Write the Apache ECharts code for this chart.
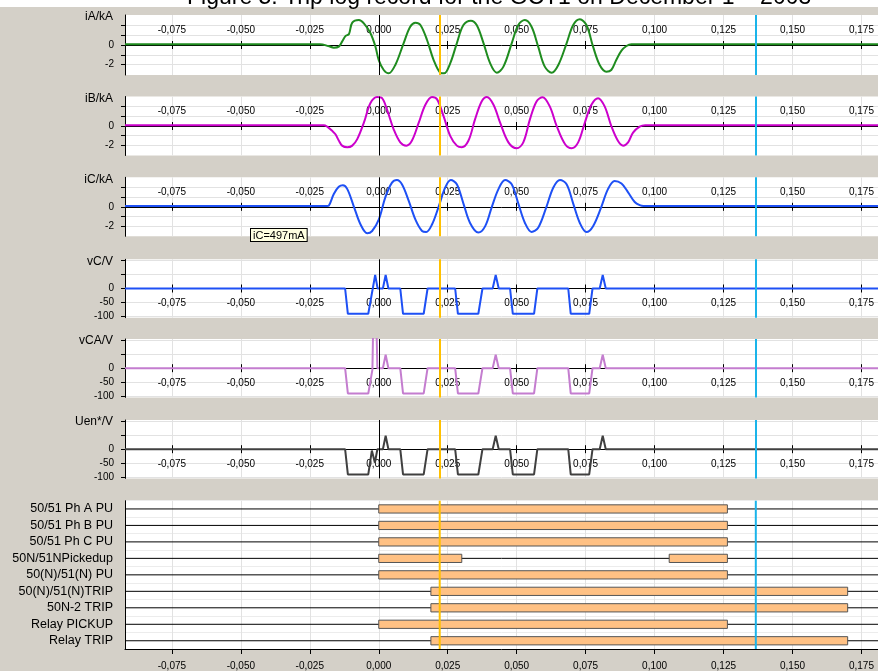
<!DOCTYPE html>
<html>
<head>
<meta charset="utf-8">
<script src="https://cdn.jsdelivr.net/npm/echarts@6/dist/echarts.min.js"></script>
<style>
  html, body { margin: 0; padding: 0; background: #ffffff; }
  #chart { width: 878px; height: 671px; }
</style>
</head>
<body>
<div id="chart"></div>
<script>
// ---- time axis (milliseconds on the axis, labelled in seconds) ----
const T_RANGE_MS = [-92, 181];
const TIME_TICKS_MS = [-75, -50, -25, 0, 25, 50, 75, 100, 125, 150, 175];
const CURSORS_MS = [22.1, 136.7];

// ---- value axis ticks ----
const CURRENT_TICKS = [-2, -1, 0, 1, 2];
const CURRENT_LABELS = [-2, 0];
const VOLTAGE_TICKS = [-100, -50, 0, 50, 100];
const VOLTAGE_LABELS = [-100, -50, 0];

// ---- analog channels: [time ms, value] ----
const IA = [[-92,0.08],[-21.3,0.08],[-18.3,-0.1],[-16.3,-0.27],[-14.5,-0.17],[-13.3,0.34],[-12.0,0.92],[-10.8,1.12],[-9.6,2.27],[-7.2,2.54],[-5.4,2.2],[-3.0,1.19],[-1.2,-0.17],[0,-1.53],[1.8,-2.54],[3.6,-2.88],[6.0,-2.03],[9.0,0.17],[11.4,1.86],[13.3,2.27],[15.1,2.03],[17.5,0.51],[19.9,-1.53],[22.3,-2.81],[23.7,-2.88],[25.9,-1.86],[28.3,0.17],[30.7,2.03],[33.4,2.47],[35.5,2.03],[38.0,0.17],[40.4,-1.86],[42.8,-2.81],[45.2,-2.2],[48.2,0.17],[50.6,2.03],[53.0,2.54],[55.4,1.86],[57.8,-0.17],[60.2,-2.2],[62.7,-2.81],[65.1,-2.03],[68.1,0.17],[70.5,2.03],[72.9,2.61],[75.3,2.03],[77.7,-0.17],[80.1,-2.03],[82.5,-2.71],[84.3,-2.54],[86.1,-1.53],[88.0,-0.58],[89.8,-0.1],[91.6,0.08],[181,0.08]];

const IB = [[-92,0.08],[-19.9,0.08],[-18.7,-0.07],[-16.9,-0.5],[-15.7,-0.85],[-14.5,-1.5],[-13.3,-2.03],[-11.4,-2.2],[-9.6,-2.03],[-7.8,-1.36],[-5.4,0.34],[-3.0,2.37],[-0.6,3.0],[1.2,2.88],[3.0,1.69],[5.4,-0.34],[7.8,-1.69],[10.0,-2.03],[12.0,-1.53],[14.5,0.34],[16.9,2.2],[19.3,3.0],[21.1,2.78],[23.5,1.02],[25.9,-1.02],[28.3,-2.03],[30.1,-2.2],[32.5,-1.53],[34.9,0.68],[37.3,2.54],[39.2,3.0],[41.6,2.2],[44.0,0.34],[47.0,-1.69],[50.0,-2.3],[52.4,-1.69],[54.8,0.68],[57.2,2.54],[59.4,2.98],[62.0,2.03],[64.5,0],[67.5,-1.86],[69.9,-2.3],[72.3,-1.69],[74.7,0.34],[77.1,2.2],[79.5,2.88],[81.9,2.03],[84.3,0],[86.7,-1.53],[88.6,-2.03],[90.4,-1.69],[92.2,-0.68],[94.6,-0.07],[96.6,0.08],[181,0.08]];

const IC = [[-92,0.08],[-18.7,0.08],[-18.1,0.12],[-16.3,1.33],[-14.5,2.07],[-13.0,2.23],[-11.4,1.83],[-9.0,0],[-6.6,-1.83],[-4.2,-2.73],[-2.4,-2.5],[0,-1.33],[2.4,1.0],[4.8,2.5],[6.6,2.77],[8.4,2.33],[10.8,0.67],[13.3,-1.33],[15.7,-2.5],[17.2,-2.6],[19.3,-1.83],[21.7,0],[24.1,2.0],[26.1,2.77],[28.3,2.33],[30.7,0.33],[33.1,-1.67],[36.1,-2.67],[38.6,-2.0],[41.0,0],[43.4,1.83],[45.8,2.77],[48.2,2.33],[50.6,0.33],[53.0,-1.67],[55.4,-2.6],[57.8,-2.17],[60.8,0],[63.3,2.0],[65.7,2.77],[68.1,2.33],[70.5,0.33],[72.9,-1.67],[75.3,-2.6],[77.7,-2.0],[80.7,0],[83.1,1.83],[85.5,2.67],[88.0,2.4],[90.4,1.5],[92.8,0.5],[94.6,0.17],[96.0,0.08],[181,0.08]];

const VC = [[-92,0],[-12.2,0],[-11.2,-90],[-3.8,-90],[-1.3,48],[-0.4,0],[1.5,0],[2.5,48],[3.5,0],[7.8,0],[8.8,-90],[16.3,-90],[17.7,0],[27.7,0],[28.7,-90],[36.1,-90],[37.6,0],[41.3,0],[42.4,48],[43.5,0],[47.6,0],[48.6,-90],[56.3,-90],[57.5,0],[68.7,0],[69.6,-90],[76.3,-90],[77.5,0],[80.1,0],[81.2,48],[82.3,0],[181,0]];

const VCA = [[-92,0],[-12.2,0],[-11.2,-90],[-3.8,-90],[-2.3,-5],[-1.9,220],[-1.0,220],[-0.5,0],[1.5,0],[2.5,48],[3.5,0],[7.8,0],[8.8,-90],[16.3,-90],[17.7,0],[27.7,0],[28.7,-90],[36.1,-90],[37.6,0],[41.3,0],[42.4,48],[43.5,0],[47.6,0],[48.6,-90],[56.3,-90],[57.5,0],[68.7,0],[69.6,-90],[76.3,-90],[77.5,0],[80.1,0],[81.2,48],[82.3,0],[181,0]];

const UEN = [[-92,0],[-12.2,0],[-11.2,-90],[-3.8,-90],[-2.5,-5],[-1.4,-48],[-0.5,0],[1.5,0],[2.5,48],[3.5,0],[7.8,0],[8.8,-90],[16.3,-90],[17.7,0],[27.7,0],[28.7,-90],[36.1,-90],[37.6,0],[41.3,0],[42.4,48],[43.5,0],[47.6,0],[48.6,-90],[56.3,-90],[57.5,0],[68.7,0],[69.6,-90],[76.3,-90],[77.5,0],[80.1,0],[81.2,48],[82.3,0],[181,0]];

// ---- binary channels ----
const ROWS = ['50/51 Ph A PU', '50/51 Ph B PU', '50/51 Ph C PU', '50N/51NPickedup',
              '50(N)/51(N) PU', '50(N)/51(N)TRIP', '50N-2 TRIP', 'Relay PICKUP', 'Relay TRIP'];
// [channel, on ms, off ms]
const ROW_SPANS = [
  ['50/51 Ph A PU', 0, 126.4],
  ['50/51 Ph B PU', 0, 126.4],
  ['50/51 Ph C PU', 0, 126.4],
  ['50N/51NPickedup', 0, 30.1],
  ['50N/51NPickedup', 105.3, 126.4],
  ['50(N)/51(N) PU', 0, 126.4],
  ['50(N)/51(N)TRIP', 18.9, 170.0],
  ['50N-2 TRIP', 18.9, 170.0],
  ['Relay PICKUP', 0, 126.4],
  ['Relay TRIP', 18.9, 170.0]
];

const TITLE = 'Figure 5: Trip log record for the GCT1 on December 1 \u2013 2003';
const NOTE = 'iC=497mA';

// ---- layout and styling ----
const FONT = '"Liberation Sans", Arial, sans-serif';
const GRID_LINE = '#e2e2e2';
const CURSOR_COLORS = ['#ffc000', '#1ab4ea'];
const PANELS = [
  { name: 'iA/kA',  data: IA,  color: '#1f8c1f', top: 15,    height: 60,   kind: 'current' },
  { name: 'iB/kA',  data: IB,  color: '#cc00cc', top: 96.5,  height: 59,   kind: 'current' },
  { name: 'iC/kA',  data: IC,  color: '#1e50f5', top: 177.3, height: 59,   kind: 'current' },
  { name: 'vC/V',   data: VC,  color: '#1e50f5', top: 259.3, height: 58.4, kind: 'voltage' },
  { name: 'vCA/V',  data: VCA, color: '#c47dcf', top: 339,   height: 58.4, kind: 'voltage' },
  { name: 'Uen*/V', data: UEN, color: '#404040', top: 420,   height: 58.4, kind: 'voltage' }
];
const BIN_GRID = { top: 500.7, height: 148.6 };
const CURRENT_RANGE = [-3.05, 3.05];
const VOLTAGE_RANGE = [-104, 104];

const fmtTime = v => (v / 1000).toFixed(3).replace('.', ',');

const cursorMarks = CURSORS_MS.map((t, k) => ({
  xAxis: t, lineStyle: { color: CURSOR_COLORS[k], width: 2, type: 'solid' }
}));

const grids = [], xAxes = [], yAxes = [], series = [];

PANELS.forEach((p, i) => {
  const isCur = p.kind === 'current';
  const range = isCur ? CURRENT_RANGE : VOLTAGE_RANGE;
  grids.push({ left: 125, right: 0, top: p.top, height: p.height, show: true,
               backgroundColor: '#ffffff', borderWidth: 0 });
  // the value ranges are symmetric, so the zero line sits half a panel in from either edge
  const toZero = -p.height / 2;
  const tickStyle = { show: true, customValues: TIME_TICKS_MS, length: 4, lineStyle: { color: '#000' } };
  // labelled time axis along the zero line
  xAxes.push({
    gridIndex: i, type: 'value', min: T_RANGE_MS[0], max: T_RANGE_MS[1],
    position: isCur ? 'top' : 'bottom', offset: toZero,
    axisLine: { show: true, onZero: false, lineStyle: { color: '#000', width: 1 } },
    axisTick: tickStyle,
    axisLabel: { show: true, customValues: TIME_TICKS_MS, formatter: fmtTime, margin: 10,
                 fontSize: 10, color: '#000', fontFamily: FONT },
    splitLine: { show: true, lineStyle: { color: GRID_LINE, width: 1 } }
  });
  // tick-only twin facing the other way, so the ticks cross the zero line
  xAxes.push({
    gridIndex: i, type: 'value', min: T_RANGE_MS[0], max: T_RANGE_MS[1],
    position: isCur ? 'bottom' : 'top', offset: toZero,
    axisLine: { show: false, onZero: false },
    axisTick: tickStyle,
    axisLabel: { show: false },
    splitLine: { show: false }
  });
  yAxes.push({
    gridIndex: i, type: 'value', min: range[0], max: range[1],
    name: p.name, nameLocation: 'end', nameGap: -2,
    nameTextStyle: { align: 'right', verticalAlign: 'middle', padding: [0, 12, 0, 0],
                     fontSize: 12, color: '#000', fontFamily: FONT },
    axisLine: { show: true, onZero: false, lineStyle: { color: '#000', width: 1 } },
    axisTick: { show: true, customValues: isCur ? CURRENT_TICKS : VOLTAGE_TICKS, length: 4,
                lineStyle: { color: '#000' } },
    axisLabel: { show: true, customValues: isCur ? CURRENT_LABELS : VOLTAGE_LABELS, margin: 11,
                 fontSize: 10, color: '#000', fontFamily: FONT },
    splitLine: { show: true, lineStyle: { color: GRID_LINE, width: 1 } }
  });
  series.push({
    type: 'line', xAxisIndex: 2 * i, yAxisIndex: i, data: p.data,
    showSymbol: false, symbol: 'none', smooth: isCur ? 0.35 : false, clip: true,
    lineStyle: { color: p.color, width: 2 }, itemStyle: { color: p.color },
    silent: true,
    markLine: {
      silent: true, symbol: 'none', label: { show: false }, animation: false,
      data: [{ xAxis: 0, lineStyle: { color: '#000', width: 1, type: 'solid' } }].concat(cursorMarks)
    }
  });
});

// binary channel panel
const bi = PANELS.length;
grids.push({ left: 125, right: 0, top: BIN_GRID.top, height: BIN_GRID.height, show: true,
             backgroundColor: '#ffffff', borderWidth: 0 });
xAxes.push({
  gridIndex: bi, type: 'value', min: T_RANGE_MS[0], max: T_RANGE_MS[1], position: 'bottom',
  axisLine: { show: true, onZero: false, lineStyle: { color: '#000', width: 1 } },
  axisTick: { show: true, customValues: TIME_TICKS_MS, length: 5, lineStyle: { color: '#000' } },
  axisLabel: { show: true, customValues: TIME_TICKS_MS, formatter: fmtTime, margin: 12,
               fontSize: 10, color: '#000', fontFamily: FONT },
  splitLine: { show: true, lineStyle: { color: GRID_LINE, width: 1 } }
});
const bx = xAxes.length - 1;
yAxes.push({
  gridIndex: bi, type: 'category', data: ROWS, inverse: true,
  axisLine: { show: true, onZero: false, lineStyle: { color: '#000', width: 1 } },
  axisTick: { show: false },
  axisLabel: { show: true, interval: 0, margin: 12, fontSize: 12.5, color: '#000', fontFamily: FONT },
  splitLine: { show: true, interval: 0, lineStyle: { color: '#ececec', width: 1 } }
});

// state line of every channel
series.push({
  type: 'custom', xAxisIndex: bx, yAxisIndex: bi, silent: true, z: 2,
  data: ROWS.map((r, k) => [T_RANGE_MS[0], T_RANGE_MS[1], k]),
  encode: { x: [0, 1], y: 2 },
  renderItem: (params, api) => {
    const a = api.coord([api.value(0), api.value(2)]);
    const b = api.coord([api.value(1), api.value(2)]);
    return { type: 'line', shape: { x1: a[0], y1: a[1], x2: b[0], y2: b[1] },
             style: { stroke: '#000', lineWidth: 1 } };
  }
});

// active intervals
series.push({
  type: 'custom', xAxisIndex: bx, yAxisIndex: bi, silent: true, z: 3,
  data: ROW_SPANS.map(([name, s, e]) => [s, e, ROWS.indexOf(name)]),
  encode: { x: [0, 1], y: 2 },
  renderItem: (params, api) => {
    const a = api.coord([api.value(0), api.value(2)]);
    const b = api.coord([api.value(1), api.value(2)]);
    const h = api.size([0, 1])[1] * 0.5;
    return { type: 'rect',
             shape: { x: a[0], y: a[1] - h / 2, width: b[0] - a[0], height: h },
             style: { fill: '#ffc184', stroke: '#555555', lineWidth: 1 } };
  }
});

// cursors across the binary panel
series.push({
  type: 'custom', xAxisIndex: bx, yAxisIndex: bi, silent: true, z: 4,
  data: CURSORS_MS.map(t => [t, 0]),
  encode: { x: 0, y: 1 },
  renderItem: (params, api) => {
    const cs = params.coordSys;
    const x = api.coord([api.value(0), 0])[0];
    return { type: 'line', shape: { x1: x, y1: cs.y, x2: x, y2: cs.y + cs.height },
             style: { stroke: CURSOR_COLORS[params.dataIndex], lineWidth: 2 } };
  }
});

const option = {
  animation: false,
  backgroundColor: '#d4d0c8',
  grid: grids,
  xAxis: xAxes,
  yAxis: yAxes,
  series: series,
  graphic: [
    { type: 'rect', silent: true, z: 0, shape: { x: 0, y: 0, width: 878, height: 7 },
      style: { fill: '#ffffff' } },
    { type: 'text', silent: true, z: 10, x: 187, y: 9,
      style: { text: TITLE, font: '23px ' + FONT, fill: '#000', verticalAlign: 'bottom', align: 'left' } },
    { type: 'text', silent: true, z: 10, x: 251, y: 229,
      style: { text: NOTE, font: '11px ' + FONT, fill: '#000', backgroundColor: '#ffffe1',
               borderColor: '#000', borderWidth: 1, padding: [1, 2, 0, 2],
               verticalAlign: 'top', align: 'left' } }
  ]
};

const chart = echarts.init(document.getElementById('chart'));
chart.setOption(option);
</script>
</body>
</html>
